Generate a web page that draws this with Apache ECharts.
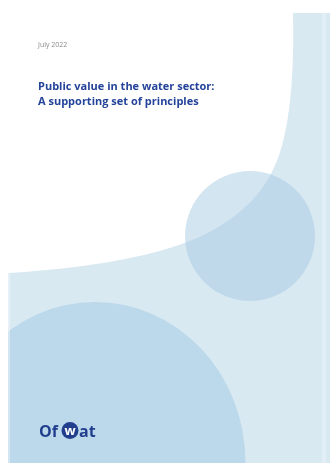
<!DOCTYPE html>
<html><head><meta charset="utf-8">
<script src="https://cdn.jsdelivr.net/npm/echarts@6/dist/echarts.min.js"></script>
<style>html,body{margin:0;padding:0;background:#fff}#c{width:330px;height:463px}</style>
</head><body><div id="c"></div>
<script>
const dateLabel = ['July 2022'];
const titleLines = ['Public value in the water sector:', 'A supporting set of principles'];
const logoParts = ['Of', 'w', 'at'];

function cubic(p0, p1, p2, p3, n) {
  const out = [];
  for (let i = 1; i <= n; i++) {
    const t = i / n, u = 1 - t;
    out.push([
      u*u*u*p0[0] + 3*u*u*t*p1[0] + 3*u*t*t*p2[0] + t*t*t*p3[0],
      u*u*u*p0[1] + 3*u*u*t*p1[1] + 3*u*t*t*p2[1] + t*t*t*p3[1]
    ]);
  }
  return out;
}
const whitePts = [[0,0],[293,0],[293,13]]
  .concat(cubic([293,13],[294,60],[292,120],[278,158],25))
  .concat(cubic([278,158],[266,190],[245,212],[213,230],20))
  .concat(cubic([213,230],[170,255],[90,268],[8,273],30))
  .concat([[0,273]]);

const chart = echarts.init(document.getElementById('c'), null, {renderer: 'canvas'});
const navy = '#223f8e';
const pale = '#d9e9f2';
chart.setOption({
  animation: false,
  backgroundColor: '#ffffff',
  graphic: [
    {type: 'rect', shape: {x: 8, y: 13, width: 322, height: 450}, style: {fill: pale}},
    {type: 'rect', shape: {x: 322, y: 13, width: 4, height: 450}, style: {fill: '#e2eef5'}},
    {type: 'circle', x: 95, y: 462, scaleX: 0.94, shape: {cx: 0, cy: 0, r: 160}, style: {fill: '#bcd9ec'}},
    {type: 'polygon', shape: {points: whitePts}, style: {fill: '#ffffff'}},
    {type: 'circle', shape: {cx: 250, cy: 236, r: 65}, style: {fill: 'rgba(160,198,226,0.45)'}},
    {type: 'rect', shape: {x: 0, y: 0, width: 8, height: 463}, style: {fill: '#ffffff'}},
    {type: 'rect', shape: {x: 8, y: 273, width: 2, height: 190}, style: {fill: 'rgba(255,255,255,0.35)'}},
    {type: 'text', x: 38, y: 45, style: {text: dateLabel[0], font: '7px "Open Sans"', fill: '#8a8a8a', verticalAlign: 'middle'}},
    {type: 'text', x: 38, y: 87, style: {text: titleLines[0], font: 'bold 11px "Open Sans"', fill: '#24449a', verticalAlign: 'middle'}},
    {type: 'text', x: 38, y: 102, style: {text: titleLines[1], font: 'bold 11px "Open Sans"', fill: '#24449a', verticalAlign: 'middle'}},
    {type: 'text', x: 39, y: 432, style: {text: logoParts[0], font: 'bold 16px "Open Sans"', fill: navy, verticalAlign: 'middle'}},
    {type: 'circle', shape: {cx: 70, cy: 430.5, r: 8.5}, style: {fill: navy}},
    {type: 'text', x: 70, y: 431, style: {text: logoParts[1], font: 'bold 13px "Open Sans"', fill: '#ffffff', align: 'center', verticalAlign: 'middle'}},
    {type: 'text', x: 79, y: 432, style: {text: logoParts[2], font: 'bold 16px "Open Sans"', fill: navy, verticalAlign: 'middle'}}
  ]
});
</script></body></html>
